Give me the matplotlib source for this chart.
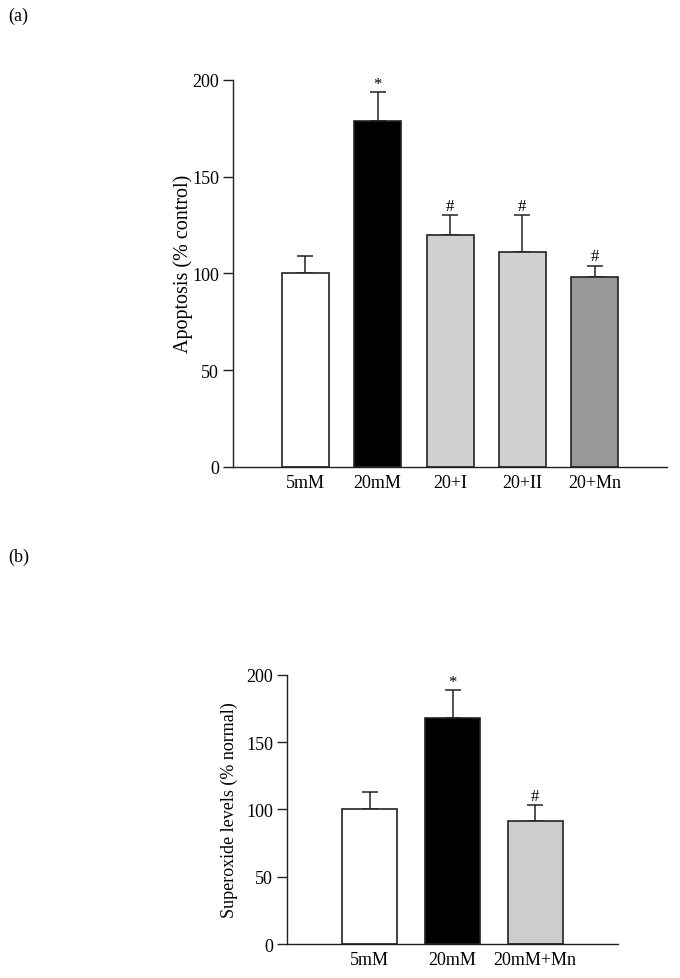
import matplotlib.pyplot as plt

plt.rcParams['font.family'] = ['Liberation Serif', 'DejaVu Serif']

# panel (a): apoptosis
labels_a = ['5mM', '20mM', '20+I', '20+II', '20+Mn']
means_a = [100, 179, 120, 111, 98]
errs_a = [9, 15, 10, 19, 6]
marks_a = ['', '*', '#', '#', '#']
colors_a = ['white', 'black', '#d0d0d0', '#d0d0d0', '#989898']

# panel (b): superoxide
labels_b = ['5mM', '20mM', '20mM+Mn']
means_b = [100, 168, 91]
errs_b = [13, 21, 12]
marks_b = ['', '*', '#']
colors_b = ['white', 'black', '#cdcdcd']

yticks = [0, 50, 100, 150, 200]

fig = plt.figure(figsize=(6.8, 9.79), dpi=100)
ax_a = fig.add_axes([0.3426, 0.522, 0.6384, 0.3953])
ax_b = fig.add_axes([0.4221, 0.0347, 0.4867, 0.2751])


def draw(ax, labels, means, errs, marks, colors, ylabel, width, fs, lfs):
    x = list(range(len(labels)))
    ax.bar(x, means, width=width, color=colors, edgecolor='#222222',
           linewidth=1.2, zorder=2)
    ax.errorbar(x, means, yerr=[[0] * len(errs), errs], fmt='none',
                ecolor='#222222', elinewidth=1.1, capsize=5.5, capthick=1.1,
                zorder=1)
    for xi, m, e, t in zip(x, means, errs, marks):
        if t:
            ax.annotate(t, (xi, m + e), xytext=(0, 1 if t == '#' else 0),
                        textcoords='offset points', ha='center', va='bottom',
                        fontsize=fs - 1)
    ax.set_xlim(-1, len(labels))
    ax.set_ylim(0, 200)
    ax.set_yticks(yticks)
    ax.set_xticks(x)
    ax.set_xticklabels(labels, fontsize=fs)
    ax.tick_params(axis='x', length=0, pad=5)
    ax.tick_params(axis='y', length=7, width=1, direction='out',
                   labelsize=fs, pad=3, color='#222222')
    for s in ['top', 'right']:
        ax.spines[s].set_visible(False)
    for s in ['left', 'bottom']:
        ax.spines[s].set_linewidth(1.0)
        ax.spines[s].set_color('#222222')
    ax.set_ylabel(ylabel, fontsize=lfs, labelpad=6)


draw(ax_a, labels_a, means_a, errs_a, marks_a, colors_a,
     'Apoptosis (% control)', 0.65, 13, 14.5)
ax_a.yaxis.set_label_coords(-0.093, 0.527)
draw(ax_b, labels_b, means_b, errs_b, marks_b, colors_b,
     'Superoxide levels (% normal)', 0.665, 13, 13)

fig.text(0.012, 0.983, '(a)', fontsize=13, va='center', ha='left')
fig.text(0.012, 0.431, '(b)', fontsize=13, va='center', ha='left')

fig.savefig('out.png', dpi=100)
